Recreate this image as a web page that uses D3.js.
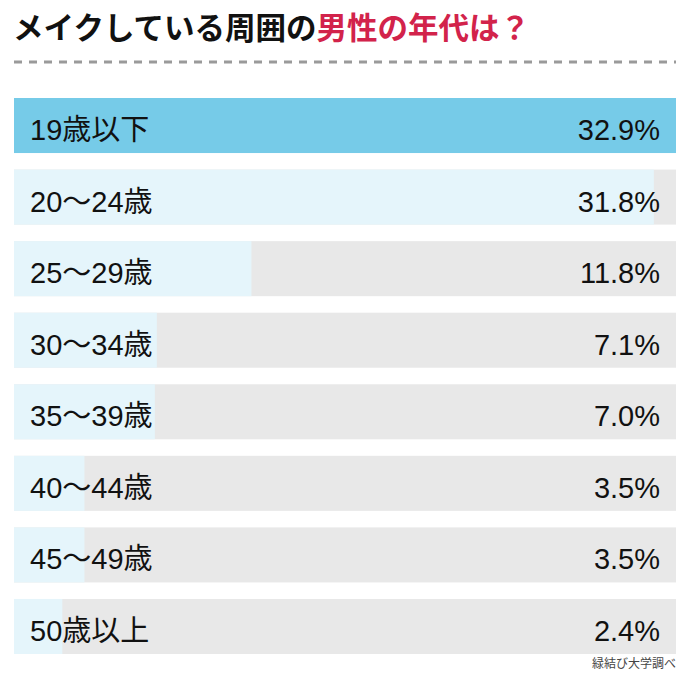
<!DOCTYPE html>
<html><head><meta charset="utf-8">
<script src="https://cdn.jsdelivr.net/npm/d3@7"></script>
<style>html,body{margin:0;padding:0;background:#fff;}</style>
</head><body>
<script>
const categories = ["19歳以下","20〜24歳","25〜29歳","30〜34歳","35〜39歳","40〜44歳","45〜49歳","50歳以上"];
const values = [32.9, 31.8, 11.8, 7.1, 7.0, 3.5, 3.5, 2.4];
const valueLabels = ["32.9%","31.8%","11.8%","7.1%","7.0%","3.5%","3.5%","2.4%"];
const titleParts = [{t:"メイクしている周囲の", c:"#111"}, {t:"男性の年代は？", c:"#d2234b"}];
const sourceText = "緑結び大学調べ";

const W = 690, H = 684;
const svg = d3.select("body").append("svg").attr("width", W).attr("height", H);
const font = "'Noto Sans CJK JP','Noto Sans',sans-serif";
const labelFont = "'Liberation Sans','Noto Sans CJK JP',sans-serif";

const title = svg.append("text").attr("x", 13).attr("y", 39)
  .attr("font-family", font).attr("font-weight", 700).attr("font-size", 30.5);
titleParts.forEach(p => title.append("tspan").attr("fill", p.c).text(p.t));

svg.append("line").attr("x1", 14).attr("x2", 676).attr("y1", 62).attr("y2", 62)
  .attr("stroke", "#9a9a9a").attr("stroke-width", 3).attr("stroke-dasharray", "8 7");

const x = d3.scaleLinear().domain([0, d3.max(values)]).range([14, 676]);
const y = d3.scaleBand().domain(categories).range([98, 654]).paddingInner(0.231).paddingOuter(0);

const g = svg.append("g");
const rows = g.selectAll("g.row").data(categories).join("g").attr("class","row");
rows.append("rect").attr("x", x(0)).attr("y", d => y(d)).attr("width", x.range()[1]-x(0))
  .attr("height", y.bandwidth()).attr("fill", "#e8e8e8");
rows.append("rect").attr("x", x(0)).attr("y", d => y(d))
  .attr("width", (d,i) => x(values[i]) - x(0)).attr("height", y.bandwidth())
  .attr("fill", (d,i) => i === 0 ? "#76cbe8" : "#e5f5fb");
rows.append("text").attr("x", 30).attr("y", d => y(d) + y.bandwidth()/2 + 14.5)
  .attr("font-family", labelFont).attr("font-size", 29).attr("fill", "#111").text(d => d);
rows.append("text").attr("x", 660).attr("y", d => y(d) + y.bandwidth()/2 + 14.5)
  .attr("text-anchor", "end").attr("font-family", labelFont).attr("font-size", 29).attr("fill", "#111")
  .text((d,i) => valueLabels[i]);

svg.append("text").attr("x", 676).attr("y", 668).attr("text-anchor", "end")
  .attr("font-family", font).attr("font-size", 12).attr("fill", "#444").text(sourceText);
</script>
</body></html>
